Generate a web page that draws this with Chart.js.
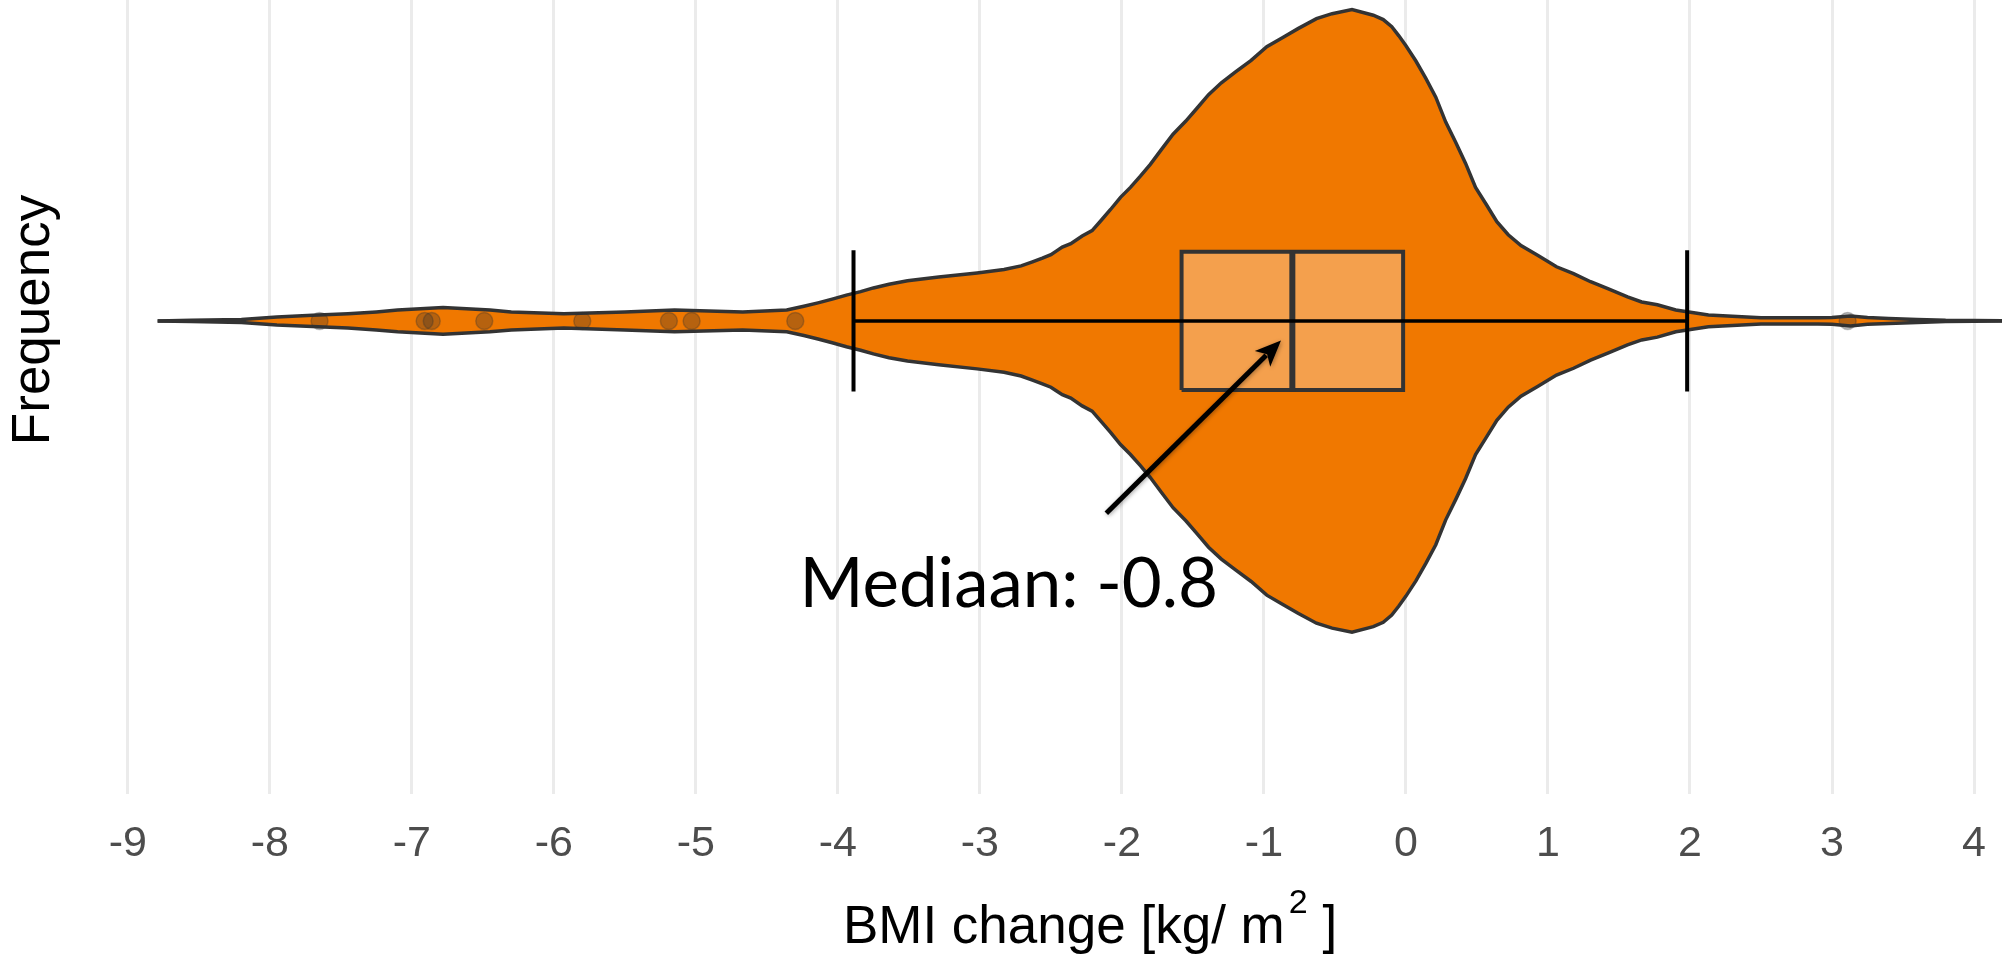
<!DOCTYPE html>
<html>
<head>
<meta charset="utf-8">
<title>BMI change</title>
<script src="https://cdn.jsdelivr.net/npm/chart.js@4.4.1/dist/chart.umd.min.js"></script>
<style>
  html, body { margin: 0; padding: 0; background: #fff; overflow: hidden; }
  #wrap { width: 2002px; height: 959px; }
  canvas { display: block; }
</style>
</head>
<body>
<div id="wrap"><canvas id="bmiChart" width="2002" height="959"></canvas></div>
<script>
// ticks on the BMI axis
const xTicks = [-9, -8, -7, -6, -5, -4, -3, -2, -1, 0, 1, 2, 3, 4];

// violin outline: BMI change and relative density (1 = widest point)
const violinX = [-8.79, -8.55, -8.2, -7.95, -7.7, -7.45, -7.25, -7.1, -6.78, -6.45,
  -6.3, -5.93, -5.5, -5.15, -4.67, -4.36, -4.24, -4.14, -4.04, -3.94,
  -3.84, -3.75, -3.64, -3.51, -3.29, -3.02, -2.83, -2.71, -2.63, -2.56,
  -2.5, -2.46, -2.42, -2.36, -2.28, -2.21, -2.15, -2.08, -2.01, -1.94,
  -1.87, -1.8, -1.72, -1.64, -1.55, -1.47, -1.39, -1.3, -1.2, -1.09,
  -0.98, -0.87, -0.76, -0.63, -0.52, -0.38, -0.23, -0.16, -0.1, -0.05,
  0.0, 0.07, 0.14, 0.21, 0.28, 0.35, 0.42, 0.49, 0.57, 0.64,
  0.72, 0.81, 0.93, 1.06, 1.18, 1.3, 1.43, 1.56, 1.66, 1.77,
  1.9, 2.13, 2.5, 2.9, 3.0, 3.13, 3.25, 3.4, 3.6, 3.8, 4.3];
const violinDensity = [0.000, 0.002, 0.005, 0.013, 0.018, 0.023, 0.029, 0.035, 0.043, 0.035,
  0.029, 0.023, 0.029, 0.035, 0.029, 0.035, 0.047, 0.058, 0.070, 0.083,
  0.094, 0.106, 0.118, 0.129, 0.141, 0.154, 0.165, 0.177, 0.190, 0.202,
  0.213, 0.225, 0.237, 0.248, 0.273, 0.290, 0.321, 0.358, 0.397, 0.429,
  0.465, 0.503, 0.552, 0.600, 0.642, 0.684, 0.727, 0.765, 0.800, 0.837,
  0.881, 0.910, 0.939, 0.971, 0.987, 1.000, 0.982, 0.968, 0.945, 0.916,
  0.884, 0.835, 0.779, 0.719, 0.639, 0.574, 0.506, 0.429, 0.371, 0.319,
  0.277, 0.242, 0.210, 0.174, 0.152, 0.126, 0.102, 0.077, 0.061, 0.052,
  0.035, 0.019, 0.010, 0.010, 0.011, 0.016, 0.011, 0.008, 0.005, 0.002, 0.000];

// box: first quartile, median, third quartile
const boxStats = [-1.58, -0.8, -0.02];
// ends of the whiskers
const whiskerEnds = [-3.89, 1.98];
// observations outside the whiskers
const outlierX = [-7.65, -6.91, -6.86, -6.49, -5.80, -5.19, -5.03, -4.30, 3.11];

const ORANGE = '#F07800';
const OUTLINE = '#333333';
const BOX_HALF = 0.222;
const AXIS_FONT = '"Liberation Sans", Arial, sans-serif';

const upper = violinX.map((x, i) => ({ x: x, y: violinDensity[i] }));
const lower = violinX.map((x, i) => ({ x: x, y: -violinDensity[i] }));

const q1 = boxStats[0], med = boxStats[1], q3 = boxStats[2];
const boxShape = [
  { x: q1, y: -BOX_HALF }, { x: q3, y: -BOX_HALF },
  { x: q3, y: BOX_HALF }, { x: q1, y: BOX_HALF }, { x: q1, y: -BOX_HALF }
];

function vline(x, color, width) {
  return {
    data: [{ x: x, y: -BOX_HALF - 0.005 }, { x: x, y: BOX_HALF + 0.005 }],
    borderColor: color, borderWidth: width, pointRadius: 0, fill: false
  };
}

// axis titles, arrow and median label
const labelsPlugin = {
  id: 'bmiLabels',
  afterDraw(chart, args, opts) {
    const ctx = chart.ctx;
    const xs = chart.scales.x, ys = chart.scales.y;

    ctx.save();
    ctx.fillStyle = '#000';
    ctx.font = '53px ' + AXIS_FONT;
    ctx.textAlign = 'center';
    ctx.textBaseline = 'alphabetic';
    ctx.translate(49, ys.getPixelForValue(0) - 1);
    ctx.rotate(-Math.PI / 2);
    ctx.fillText('Frequency', 0, 0);
    ctx.restore();

    // "BMI change [kg/ m²]" with a raised 2
    ctx.save();
    ctx.fillStyle = '#000';
    ctx.textBaseline = 'alphabetic';
    ctx.textAlign = 'left';
    const main = 'BMI change [kg/ m';
    ctx.font = '53px ' + AXIS_FONT;
    const w1 = ctx.measureText(main).width;
    const w3 = ctx.measureText(' ]').width;
    ctx.font = '34px ' + AXIS_FONT;
    const w2 = ctx.measureText('2').width;
    const total = w1 + 4 + w2 + w3;
    let tx = opts.titleCenter - total / 2;
    const base = chart.height - 16;
    ctx.font = '53px ' + AXIS_FONT;
    ctx.fillText(main, tx, base);
    tx += w1 + 4;
    ctx.font = '34px ' + AXIS_FONT;
    ctx.fillText('2', tx, base - 30);
    tx += w2;
    ctx.font = '53px ' + AXIS_FONT;
    ctx.fillText(' ]', tx, base);
    ctx.restore();

    // arrow to the median
    const x1 = xs.getPixelForValue(opts.arrowFrom[0]), y1 = ys.getPixelForValue(opts.arrowFrom[1]);
    const x2 = xs.getPixelForValue(opts.arrowTo[0]), y2 = ys.getPixelForValue(opts.arrowTo[1]);
    const ang = Math.atan2(y2 - y1, x2 - x1);
    const head = 26, half = 11;
    ctx.save();
    ctx.shadowColor = 'rgba(0,0,0,0.35)';
    ctx.shadowBlur = 4;
    ctx.shadowOffsetX = 1;
    ctx.shadowOffsetY = 1;
    ctx.strokeStyle = '#000';
    ctx.fillStyle = '#000';
    ctx.lineWidth = 5;
    ctx.beginPath();
    ctx.moveTo(x1, y1);
    ctx.lineTo(x2 - Math.cos(ang) * head * 0.8, y2 - Math.sin(ang) * head * 0.8);
    ctx.stroke();
    ctx.beginPath();
    ctx.moveTo(x2, y2);
    ctx.lineTo(x2 - Math.cos(ang) * head + Math.sin(ang) * half, y2 - Math.sin(ang) * head - Math.cos(ang) * half);
    ctx.lineTo(x2 - Math.cos(ang) * head * 0.75, y2 - Math.sin(ang) * head * 0.75);
    ctx.lineTo(x2 - Math.cos(ang) * head - Math.sin(ang) * half, y2 - Math.sin(ang) * head + Math.cos(ang) * half);
    ctx.closePath();
    ctx.fill();
    ctx.restore();

    ctx.save();
    ctx.fillStyle = '#000';
    ctx.font = '69px Lato, "Open Sans", sans-serif';
    ctx.textAlign = 'left';
    ctx.textBaseline = 'alphabetic';
    ctx.fillText('Mediaan: ' + med.toFixed(1),
      xs.getPixelForValue(opts.textAt[0]), ys.getPixelForValue(opts.textAt[1]));
    ctx.restore();
  }
};

new Chart(document.getElementById('bmiChart'), {
  type: 'line',
  data: {
    datasets: [
      // whisker line across the box
      {
        data: [{ x: whiskerEnds[0], y: 0 }, { x: whiskerEnds[1], y: 0 }],
        borderColor: '#000', borderWidth: 3.5, pointRadius: 0, fill: false
      },
      vline(whiskerEnds[0], '#000', 4),
      vline(whiskerEnds[1], '#000', 4),
      vline(med, OUTLINE, 6),
      {
        data: boxShape,
        borderColor: OUTLINE, borderWidth: 4, pointRadius: 0,
        backgroundColor: 'rgba(255,255,255,0.3)', fill: 'shape'
      },
      {
        data: outlierX.map(x => ({ x: x, y: 0 })),
        showLine: false, pointRadius: 8.5,
        pointBackgroundColor: 'rgba(51,51,51,0.3)',
        pointBorderColor: 'rgba(51,51,51,0.3)', pointBorderWidth: 1.5
      },
      {
        data: lower,
        borderColor: OUTLINE, borderWidth: 3.5, pointRadius: 0, fill: false
      },
      {
        data: upper,
        borderColor: OUTLINE, borderWidth: 3.5, pointRadius: 0,
        backgroundColor: ORANGE, fill: '-1'
      }
    ]
  },
  options: {
    responsive: false,
    devicePixelRatio: 1,
    animation: false,
    layout: { autoPadding: false, padding: { left: 0, right: 0, top: 0, bottom: 89 } },
    plugins: {
      legend: { display: false },
      tooltip: { enabled: false },
      bmiLabels: {
        titleCenter: 1090,
        arrowFrom: [-2.11, -0.618],
        arrowTo: [-0.88, -0.063],
        textAt: [-4.27, -0.918]
      }
    },
    scales: {
      x: {
        type: 'linear',
        min: -9.90,
        max: 4.197,
        afterBuildTicks: axis => { axis.ticks = xTicks.map(v => ({ value: v })); },
        ticks: {
          color: '#4D4D4D',
          padding: 0,
          maxRotation: 0,
          font: { family: AXIS_FONT, size: 43 }
        },
        // blank tick marks keep the labels clear of the plot
        grid: { color: '#EBEBEB', lineWidth: 3, drawTicks: true, tickLength: 24, tickColor: 'rgba(0,0,0,0)' },
        border: { display: false }
      },
      y: {
        type: 'linear',
        display: false,
        min: -1.521,
        max: 1.031
      }
    }
  },
  plugins: [labelsPlugin]
});
</script>
</body>
</html>
